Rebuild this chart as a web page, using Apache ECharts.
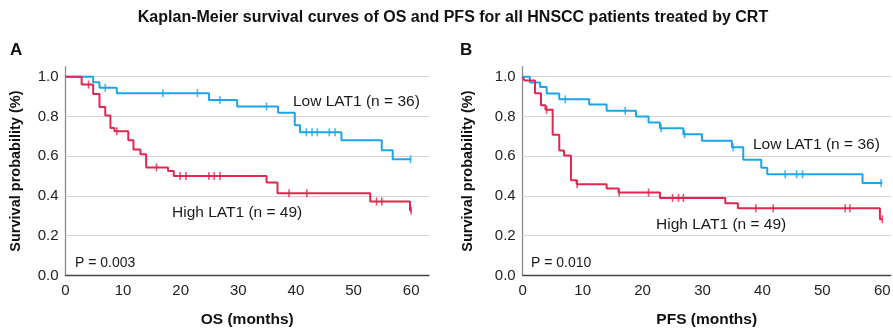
<!DOCTYPE html>
<html><head><meta charset="utf-8">
<script src="https://cdn.jsdelivr.net/npm/echarts@6/dist/echarts.min.js"></script>
<style>html,body{margin:0;padding:0;background:#fff}#c{width:893px;height:328px}</style>
</head><body><div id="c"></div>
<script>
// ---- Data (months, survival probability) ----
const A_low_t  = [0, 4.8, 5.9, 8.9, 24.9, 29.8, 36.9, 39.8, 40.7, 47.9, 54.9, 56.8, 60];
const A_low_s  = [1, 0.972, 0.944, 0.917, 0.883, 0.85, 0.818, 0.755, 0.72, 0.68, 0.63, 0.585, 0.585];
const A_low_c  = [6.9, 16.9, 22.9, 26.8, 34.9, 41.8, 42.8, 43.7, 45.8, 46.8, 59.9];

const A_high_t = [0, 2.8, 4.8, 5.9, 6.9, 7.8, 8.5, 10.9, 11.8, 13.0, 14.0, 17.8, 18.8, 34.9, 36.8, 52.9, 59.8, 60];
const A_high_s = [1, 0.96, 0.913, 0.847, 0.805, 0.742, 0.725, 0.68, 0.633, 0.61, 0.543, 0.525, 0.50, 0.468, 0.413, 0.372, 0.327, 0.327];
const A_high_c = [4.0, 8.9, 15.8, 19.9, 20.9, 24.9, 25.8, 26.8, 38.8, 41.9, 54.0, 54.9, 60];

const B_low_t  = [0, 1.2, 2.9, 4.0, 6.1, 11.1, 14.0, 18.9, 21.0, 22.9, 26.8, 29.9, 34.9, 36.8, 39.8, 40.8, 56.7, 60];
const B_low_s  = [1, 0.97, 0.948, 0.915, 0.886, 0.86, 0.828, 0.80, 0.77, 0.74, 0.71, 0.678, 0.645, 0.582, 0.542, 0.509, 0.465, 0.465];
const B_low_c  = [7.1, 17.1, 23.1, 27.0, 35.1, 43.8, 45.7, 46.7, 59.8];

const B_high_t = [0, 0.3, 2.05, 3.05, 3.8, 5.0, 6.1, 6.9, 8.05, 9.0, 14.0, 16.0, 22.9, 33.8, 35.9, 59.6, 60];
const B_high_s = [1, 0.98, 0.916, 0.856, 0.833, 0.708, 0.628, 0.603, 0.479, 0.459, 0.437, 0.417, 0.39, 0.363, 0.338, 0.283, 0.283];
const B_high_c = [4.0, 9.1, 16.1, 21.0, 25.0, 26.0, 26.8, 38.9, 41.8, 53.8, 54.6, 60];

const yTicks = [0.2, 0.4, 0.6, 0.8, 1.0];

const BLUE = '#1ba5ea', RED = '#e0274f';
const FONT = '"Liberation Sans", Arial, sans-serif';

function curve(t, s) { return t.map((v, i) => [v, s[i]]); }
function sAt(t, s, x) { let v = s[0]; for (let i = 0; i < t.length; i++) { if (t[i] <= x) v = s[i]; } return v; }
function cens(t, s, c) { return c.map(x => [x, sAt(t, s, x)]); }

function lineSeries(idx, t, s, color, withGrid) {
  const o = {
    type: 'line', xAxisIndex: idx, yAxisIndex: idx, step: 'end', data: curve(t, s),
    symbol: 'none', lineStyle: { color: color, width: 2 }, z: 5, silent: true, animation: false
  };
  if (withGrid) {
    o.markLine = {
      silent: true, symbol: 'none', label: { show: false }, animation: false,
      lineStyle: { color: '#d4d4d4', width: 1.2, type: 'solid' },
      data: yTicks.map(v => ({ yAxis: v }))
    };
  }
  return o;
}
function censSeries(idx, t, s, c, color) {
  return {
    type: 'scatter', xAxisIndex: idx, yAxisIndex: idx, data: cens(t, s, c),
    symbol: 'rect', symbolSize: [1.6, 8], itemStyle: { color: color }, z: 6, silent: true, animation: false
  };
}
function xAx(idx, max, name) {
  return {
    gridIndex: idx, type: 'value', min: 0, max: max, interval: 10,
    name: name, nameLocation: 'middle', nameGap: 36,
    nameTextStyle: { fontFamily: FONT, fontSize: 15.5, fontWeight: 'bold', color: '#111' },
    axisLine: { show: true, lineStyle: { color: '#444', width: 1.3 } },
    axisTick: { show: false }, splitLine: { show: false },
    axisLabel: { showMaxLabel: false, fontFamily: FONT, fontSize: 15, color: '#222', margin: 8 }
  };
}
function yAx(idx, gap) {
  return {
    gridIndex: idx, type: 'value', min: 0, max: 1.05, interval: 0.2,
    name: 'Survival probability (%)', nameLocation: 'middle', nameGap: gap, nameRotate: 90,
    nameTextStyle: { fontFamily: FONT, fontSize: 14.5, fontWeight: 'bold', color: '#111' },
    axisLine: { show: true, lineStyle: { color: '#8a8a8a', width: 1.3 } },
    axisTick: { show: false }, splitLine: { show: false },
    axisLabel: { showMaxLabel: false, fontFamily: FONT, fontSize: 15, color: '#222', margin: 7,
      formatter: v => v.toFixed(1) }
  };
}
function txt(x, y, s, extra) {
  return { type: 'text', x: x, y: y, z: 100, style: Object.assign({
    text: s, font: '15.5px ' + FONT, fill: '#1a1a1a', verticalAlign: 'middle' }, extra || {}) };
}

const chart = echarts.init(document.getElementById('c'), null, { renderer: 'canvas' });
chart.setOption({
  backgroundColor: '#fff',
  animation: false,
  grid: [
    { left: 65.5, top: 66.7, width: 363.5, height: 208.8, containLabel: false, outerBoundsMode: 'none' },
    { left: 522.7, top: 66.7, width: 368, height: 208.8, containLabel: false, outerBoundsMode: 'none' }
  ],
  xAxis: [xAx(0, 63.1, 'OS (months)'), xAx(1, 61.4, 'PFS (months)')],
  yAxis: [yAx(0, 42), yAx(1, 47)],
  series: [
    lineSeries(0, A_low_t, A_low_s, BLUE, true),
    lineSeries(0, A_high_t, A_high_s, RED, false),
    censSeries(0, A_low_t, A_low_s, A_low_c, BLUE),
    censSeries(0, A_high_t, A_high_s, A_high_c, RED),
    lineSeries(1, B_low_t, B_low_s, BLUE, true),
    lineSeries(1, B_high_t, B_high_s, RED, false),
    censSeries(1, B_low_t, B_low_s, B_low_c, BLUE),
    censSeries(1, B_high_t, B_high_s, B_high_c, RED)
  ],
  graphic: [
    txt(453, 18, 'Kaplan-Meier survival curves of OS and PFS for all HNSCC patients treated by CRT',
      { font: 'bold 16px ' + FONT, align: 'center', fill: '#111' }),
    txt(10, 50, 'A', { font: 'bold 17px ' + FONT, fill: '#111' }),
    txt(460, 50, 'B', { font: 'bold 17px ' + FONT, fill: '#111' }),
    txt(293, 102, 'Low LAT1 (n = 36)'),
    txt(172, 213, 'High LAT1 (n = 49)'),
    txt(75, 263, 'P = 0.003', { font: '14px ' + FONT }),
    txt(753, 145, 'Low LAT1 (n = 36)'),
    txt(656, 225, 'High LAT1 (n = 49)'),
    txt(531, 263, 'P = 0.010', { font: '14px ' + FONT })
  ]
});
</script></body></html>
